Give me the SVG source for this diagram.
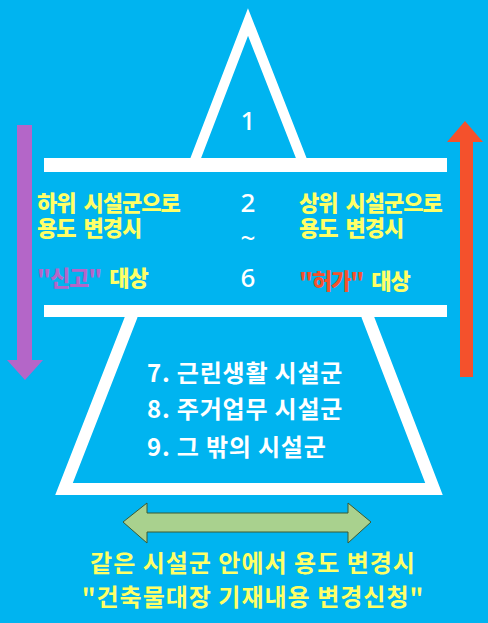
<svg xmlns="http://www.w3.org/2000/svg" width="488" height="623" viewBox="0 0 488 623">
<style>
.w{fill:none;stroke:#fff;stroke-linejoin:miter;stroke-miterlimit:10}
.num{font-family:"Noto Sans","Noto Sans CJK KR",sans-serif;font-size:26px;fill:#fff;text-anchor:middle;font-weight:500}
.y{font-family:"Noto Sans CJK KR",sans-serif;font-size:22px;font-weight:900;fill:#FFFF66;letter-spacing:-1px;word-spacing:4px}
.list{font-family:"Noto Sans CJK KR",sans-serif;font-size:24px;font-weight:700;fill:#fff;letter-spacing:0.8px}
.bot{font-family:"Noto Sans CJK KR",sans-serif;font-size:24px;font-weight:700;fill:#FFFF66;text-anchor:middle;letter-spacing:1px}
</style>
<rect width="488" height="623" fill="#00B4F0"/>
<g id="top-triangle">
<path class="w" stroke-width="10" d="M195,160 L248,22 L302,160"/>
<text class="num" x="248" y="130">1</text>
</g>
<g id="middle-band">
<rect x="44" y="158" width="403" height="14" fill="#fff"/>
<rect x="44" y="305" width="403" height="12" fill="#fff"/>
<text class="num" x="248" y="212">2</text>
<text class="num" x="248" y="247">~</text>
<text class="num" x="248" y="287">6</text>
</g>
<g id="bottom-trapezoid">
<path class="w" stroke-width="12" d="M132,315 L64,489 L434,489 L367,315"/>
<text class="list" x="147" y="382">7. 근린생활 시설군</text>
<text class="list" x="147" y="418">8. 주거업무 시설군</text>
<text class="list" x="147" y="456">9. 그 밖의 시설군</text>
</g>
<g id="left-label">
<text class="y" x="37" y="211">하위 시설군으로</text>
<text class="y" x="37" y="236">용도 변경시</text>
<text class="y" x="37" y="286"><tspan fill="#B466C8">"신고"</tspan> 대상</text>
</g>
<g id="right-label">
<text class="y" x="299" y="211">상위 시설군으로</text>
<text class="y" x="299" y="236">용도 변경시</text>
<text class="y" x="299" y="289"><tspan fill="#F4512C">"허가"</tspan> 대상</text>
</g>
<g id="bottom-label">
<text class="bot" x="253" y="572">같은 시설군 안에서 용도 변경시</text>
<text class="bot" x="253" y="606">"건축물대장 기재내용 변경신청"</text>
</g>
<g id="connectors">
<path d="M17,125 H32 V360 H43 L25,380 L7,360 H17 Z" fill="#B466C8"/>
<path d="M460,377 V142 H447 L465,121 L483,142 H473 V377 Z" fill="#F4512C"/>
<path d="M123,522 L147,503 V513 H348 V503 L371,522 L348,543 V532 H147 V543 Z" fill="#A9D18E" stroke="#3B5A32" stroke-width="1"/>
</g>
</svg>
